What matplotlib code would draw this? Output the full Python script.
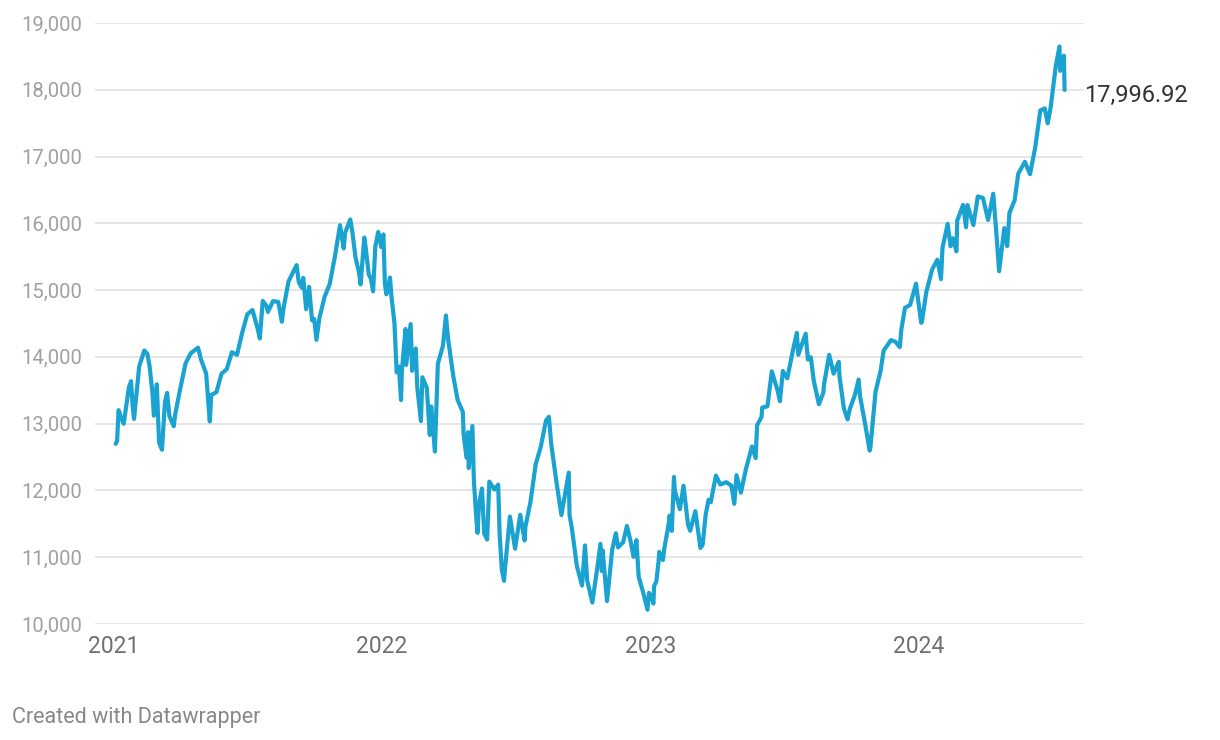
import matplotlib
matplotlib.use("Agg")
import matplotlib.pyplot as plt
import pandas as pd

plt.rcParams['font.family'] = ['Roboto', 'DejaVu Sans']

# ========================================
# Data (index closes)
# ========================================

dates_2021 = ["2021-01-04", "2021-01-06", "2021-01-08", "2021-01-12", "2021-01-15", "2021-01-22",
              "2021-01-25", "2021-01-27", "2021-01-29", "2021-02-05", "2021-02-12", "2021-02-16",
              "2021-02-19", "2021-02-23", "2021-02-25", "2021-03-01", "2021-03-04", "2021-03-08",
              "2021-03-12", "2021-03-15", "2021-03-18", "2021-03-24", "2021-03-26", "2021-04-01",
              "2021-04-09", "2021-04-16", "2021-04-26", "2021-04-30", "2021-05-07", "2021-05-12",
              "2021-05-14", "2021-05-21", "2021-05-28", "2021-06-04", "2021-06-11", "2021-06-18",
              "2021-06-25", "2021-07-02", "2021-07-09", "2021-07-16", "2021-07-19", "2021-07-23",
              "2021-07-28", "2021-07-30", "2021-08-06", "2021-08-13", "2021-08-18", "2021-08-20",
              "2021-08-27", "2021-09-07", "2021-09-10", "2021-09-14", "2021-09-16", "2021-09-20",
              "2021-09-24", "2021-09-28", "2021-10-01", "2021-10-04", "2021-10-08", "2021-10-15",
              "2021-10-22", "2021-10-29", "2021-11-05", "2021-11-10", "2021-11-12", "2021-11-19",
              "2021-11-22", "2021-11-26", "2021-12-01", "2021-12-03", "2021-12-08", "2021-12-10",
              "2021-12-14", "2021-12-17", "2021-12-20", "2021-12-23", "2021-12-27", "2021-12-31"]
values_2021 = [12698, 12740, 13201, 13072, 12998, 13543,
               13635, 13271, 13070, 13856, 14095, 14047,
               13874, 13465, 13119, 13589, 12723, 12609,
               13320, 13460, 13116, 12961, 13139, 13480,
               13900, 14052, 14138, 13962, 13752, 13032,
               13430, 13471, 13749, 13814, 14069, 14030,
               14360, 14639, 14701, 14427, 14275, 14837,
               14763, 14673, 14835, 14823, 14526, 14714,
               15129, 15374, 15115, 15037, 15181, 14714,
               15048, 14546, 14567, 14255, 14580, 14897,
               15090, 15498, 15971, 15623, 15860, 16057,
               15854, 15491, 15254, 15085, 15786, 15630,
               15237, 15170, 14981, 15653, 15871, 15645]

dates_2022 = ["2022-01-03", "2022-01-05", "2022-01-07", "2022-01-12", "2022-01-14", "2022-01-18",
              "2022-01-21", "2022-01-24", "2022-01-27", "2022-01-28", "2022-02-02", "2022-02-03",
              "2022-02-09", "2022-02-11", "2022-02-16", "2022-02-18", "2022-02-23", "2022-02-25",
              "2022-03-03", "2022-03-07", "2022-03-09", "2022-03-14", "2022-03-18", "2022-03-25",
              "2022-03-29", "2022-04-01", "2022-04-08", "2022-04-14", "2022-04-21", "2022-04-22",
              "2022-04-26", "2022-04-28", "2022-04-29", "2022-05-04", "2022-05-06", "2022-05-09",
              "2022-05-11", "2022-05-13", "2022-05-17", "2022-05-20", "2022-05-24", "2022-05-27",
              "2022-06-03", "2022-06-08", "2022-06-10", "2022-06-13", "2022-06-16", "2022-06-17",
              "2022-06-24", "2022-07-01", "2022-07-08", "2022-07-14", "2022-07-15", "2022-07-22",
              "2022-07-29", "2022-08-05", "2022-08-12", "2022-08-16", "2022-08-19", "2022-08-26",
              "2022-09-02", "2022-09-12", "2022-09-13", "2022-09-16", "2022-09-23", "2022-09-30",
              "2022-10-04", "2022-10-07", "2022-10-12", "2022-10-14", "2022-10-21", "2022-10-25",
              "2022-10-27", "2022-10-28", "2022-11-03", "2022-11-10", "2022-11-15", "2022-11-18",
              "2022-11-25", "2022-11-30", "2022-12-05", "2022-12-09", "2022-12-13", "2022-12-16",
              "2022-12-22", "2022-12-28", "2022-12-30"]
values_2022 = [15833, 15100, 14936, 15188, 14894, 14506,
               13769, 13855, 13353, 13770, 14417, 13879,
               14491, 13791, 14125, 13548, 13038, 13694,
               13537, 12831, 13256, 12581, 13894, 14169,
               14620, 14262, 13711, 13351, 13174, 12839,
               12491, 12872, 12335, 12965, 12145, 11623,
               11364, 11805, 12029, 11355, 11264, 12131,
               12013, 12086, 11340, 10809, 10646, 10798,
               11608, 11128, 11635, 11251, 11452, 11834,
               12391, 12657, 13047, 13103, 12705, 12141,
               11631, 12266, 11634, 11448, 10868, 10576,
               11176, 10652, 10417, 10321, 10860, 11199,
               10792, 11102, 10343, 11114, 11358, 11146,
               11226, 11468, 11240, 11005, 11256, 10705,
               10476, 10213, 10466]

dates_2023 = ["2023-01-03", "2023-01-05", "2023-01-06", "2023-01-09", "2023-01-12", "2023-01-13",
              "2023-01-18", "2023-01-20", "2023-01-26", "2023-01-27", "2023-01-30", "2023-02-02",
              "2023-02-03", "2023-02-10", "2023-02-15", "2023-02-21", "2023-02-24", "2023-03-03",
              "2023-03-10", "2023-03-13", "2023-03-17", "2023-03-21", "2023-03-24", "2023-03-31",
              "2023-04-06", "2023-04-14", "2023-04-21", "2023-04-25", "2023-04-28", "2023-05-04",
              "2023-05-11", "2023-05-19", "2023-05-24", "2023-05-26", "2023-06-01", "2023-06-02",
              "2023-06-09", "2023-06-15", "2023-06-23", "2023-06-26", "2023-06-30", "2023-07-06",
              "2023-07-14", "2023-07-19", "2023-07-21", "2023-07-31", "2023-08-03", "2023-08-07",
              "2023-08-11", "2023-08-18", "2023-08-24", "2023-08-25", "2023-09-01", "2023-09-07",
              "2023-09-14", "2023-09-15", "2023-09-21", "2023-09-26", "2023-09-29", "2023-10-06",
              "2023-10-11", "2023-10-13", "2023-10-20", "2023-10-26", "2023-10-27", "2023-11-03",
              "2023-11-10", "2023-11-14", "2023-11-24", "2023-11-30", "2023-12-06", "2023-12-08",
              "2023-12-13", "2023-12-20", "2023-12-28", "2023-12-29"]
values_2023 = [10386, 10305, 10569, 10636, 10931, 11079,
               10957, 11140, 11512, 11622, 11393, 12201,
               12007, 11718, 12070, 11492, 11395, 11689,
               11138, 11188, 11630, 11860, 11824, 12222,
               12088, 12123, 12072, 11799, 12227, 11966,
               12328, 12658, 12484, 12976, 13100, 13241,
               13259, 13782, 13492, 13336, 13788, 13679,
               14113, 14358, 14032, 14346, 13960, 13994,
               13644, 13290, 13463, 13590, 14031, 13748,
               13926, 13708, 13224, 13063, 13219, 13431,
               13660, 13407, 12984, 12596, 12643, 13478,
               13798, 14094, 14251, 14226, 14147, 14404,
               14734, 14777, 15095, 15011]

dates_2024 = ["2024-01-04", "2024-01-05", "2024-01-11", "2024-01-19", "2024-01-26", "2024-01-31",
              "2024-02-02", "2024-02-09", "2024-02-13", "2024-02-16", "2024-02-21", "2024-02-22",
              "2024-03-01", "2024-03-05", "2024-03-07", "2024-03-15", "2024-03-21", "2024-03-28",
              "2024-04-04", "2024-04-11", "2024-04-15", "2024-04-19", "2024-04-26", "2024-04-30",
              "2024-05-03", "2024-05-10", "2024-05-15", "2024-05-24", "2024-05-31", "2024-06-07",
              "2024-06-14", "2024-06-20", "2024-06-24", "2024-06-28", "2024-07-05", "2024-07-10",
              "2024-07-11", "2024-07-12", "2024-07-16", "2024-07-17"]
values_2024 = [14510, 14524, 14970, 15311, 15455, 15164,
               15629, 15990, 15656, 15776, 15580, 16041,
               16275, 15940, 16273, 15973, 16402, 16379,
               16050, 16442, 15885, 15282, 15928, 15658,
               16156, 16341, 16742, 16921, 16735, 17133,
               17689, 17721, 17497, 17733, 18353, 18647,
               18283, 18398, 18509, 17997]

last_label = "17,996.92"
year_ticks = ["2021", "2022", "2023", "2024"]
y_ticks = [10000, 11000, 12000, 13000, 14000, 15000, 16000, 17000, 18000, 19000]

dates = pd.to_datetime(dates_2021 + dates_2022 + dates_2023 + dates_2024)
values = values_2021 + values_2022 + values_2023 + values_2024

# ========================================
# Plot
# ========================================

fig = plt.figure(figsize=(12.2, 7.4), dpi=100)
ax = fig.add_axes([0.0779, 0.1568, 0.8098, 0.8122])

ax.plot(dates, values, color='#1aa3d0', linewidth=3.0,
        solid_joinstyle='round', solid_capstyle='round', zorder=3)

ax.set_xlim(pd.Timestamp("2020-12-07"), pd.Timestamp("2024-08-11"))
ax.set_ylim(10000, 19000)

ax.set_yticks(y_ticks)
ax.set_yticklabels([f"{v:,}" for v in y_ticks])
ax.set_xticks(pd.to_datetime([y + "-01-01" for y in year_ticks]))
ax.set_xticklabels(year_ticks)

ax.tick_params(axis='y', length=0, pad=9, labelsize=14.6, labelcolor='#a0a0a0')
ax.tick_params(axis='x', length=0, pad=8, labelsize=16.5, labelcolor='#707070')

ax.grid(axis='y', color='#e3e3e3', linewidth=1.3, zorder=0)
ax.grid(axis='x', visible=False)
for side in ['top', 'right', 'left', 'bottom']:
    ax.spines[side].set_visible(False)

# label at the last point
ax.annotate(last_label, xy=(dates[-1], values[-1]), xytext=(14, -4),
            textcoords='offset points', va='center', ha='left',
            fontsize=17, color='#333333', annotation_clip=False)

fig.text(12 / 1220, 1 - 717 / 740, "Created with Datawrapper",
         fontsize=15.5, color='#888888', va='center', ha='left')

fig.savefig("out.png", dpi=100, facecolor='white')
